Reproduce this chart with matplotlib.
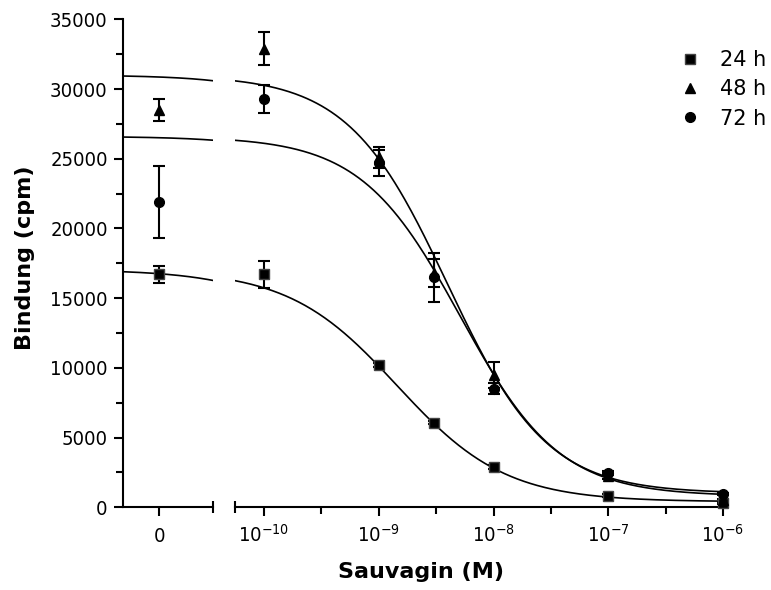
import numpy as np
import matplotlib.pyplot as plt
from matplotlib.lines import Line2D
from matplotlib.ticker import FixedLocator, NullLocator, MultipleLocator

plt.rcParams['font.family'] = ['DejaVu Sans']
plt.rcParams['font.stretch'] = 'condensed'
plt.rcParams['mathtext.fontset'] = 'custom'
plt.rcParams['mathtext.rm'] = 'DejaVu Sans:stretch=condensed'
plt.rcParams['mathtext.it'] = 'DejaVu Sans:italic:stretch=condensed'
plt.rcParams['mathtext.bf'] = 'DejaVu Sans:bold:stretch=condensed'

# Sauvagin concentration (M), 0 = no sauvagin
conc = [0, 1e-10, 1e-9, 3e-9, 1e-8, 1e-7, 1e-6]
series = ['24 h', '48 h', '72 h']
markers = ['s', '^', 'o']

# binding (cpm), mean and error
mean_24 = [16700, 16700, 10200, 6070, 2870, 830, 300]
err_24 = [600, 1000, 150, 120, 150, 100, 60]
mean_48 = [28500, 32900, 25100, 16800, 9500, 2250, 500]
err_48 = [800, 1200, 750, 1000, 950, 200, 100]
mean_72 = [21900, 29300, 24700, 16500, 8500, 2450, 950]
err_72 = [2550, 1000, 950, 1750, 400, 150, 100]

# sigmoidal fit parameters per series
fit_top = [17050, 31000, 26600]
fit_bottom = [400, 1000, 800]
fit_logec50 = [-8.84, -8.40, -8.29]
fit_hill = [0.92, 1.0, 1.0]

means = [mean_24, mean_48, mean_72]
errs = [err_24, err_48, err_72]

# axis geometry
zero_pos = 10 ** -10.73
xlim0 = (10 ** -11.05, 10 ** -10.26)
xlim1 = (10 ** -10.253, 1e-6)

W, H = 771, 590
fig = plt.figure(figsize=(W / 100, H / 100), dpi=100)
bottom = 1 - 507.3 / H
height = (507.3 - 19.3) / H
ax0 = fig.add_axes([122.7 / W, bottom, 90.6 / W, height])
ax1 = fig.add_axes([235 / W, bottom, (723 - 235) / W, height], sharey=ax0)


def fit_curve(x, i):
    return fit_bottom[i] + (fit_top[i] - fit_bottom[i]) / (
        1 + 10 ** (fit_hill[i] * (np.log10(x) - fit_logec50[i])))


for ax, lim in ((ax0, xlim0), (ax1, xlim1)):
    ax.set_xscale('log')
    ax.set_xlim(*lim)
    xs = np.logspace(np.log10(lim[0]), np.log10(lim[1]), 300)
    for i in range(3):
        ax.plot(xs, fit_curve(xs, i), color='black', lw=1.2, zorder=2)

for i in range(3):
    kw = dict(fmt=markers[i], color='black', ecolor='black', elinewidth=1.5,
              capsize=4.2, capthick=1.5, ms=7 if markers[i] != 's' else 6.5,
              mfc='black', mec='#444444' if markers[i] == 's' else 'black',
              clip_on=False, zorder=3)
    ax0.errorbar([zero_pos], means[i][:1], yerr=errs[i][:1], **kw)
    ax1.errorbar(conc[1:], means[i][1:], yerr=errs[i][1:], **kw)

ax0.set_ylim(0, 35000)
ax0.yaxis.set_major_locator(MultipleLocator(5000))
ax0.yaxis.set_minor_locator(MultipleLocator(2500))

ax0.xaxis.set_major_locator(FixedLocator([zero_pos]))
ax0.xaxis.set_minor_locator(NullLocator())
ax0.set_xticklabels(['0'])

ax1.xaxis.set_major_locator(FixedLocator([1e-10, 1e-9, 1e-8, 1e-7, 1e-6]))
ax1.xaxis.set_minor_locator(FixedLocator([10 ** -9.5, 10 ** -8.5, 10 ** -7.5, 10 ** -6.5]))
ax1.set_xticklabels([r'$\mathregular{10^{-%d}}$' % p for p in (10, 9, 8, 7, 6)])
ax1.xaxis.set_minor_formatter(plt.NullFormatter())

for ax in (ax0, ax1):
    for s in ('top', 'right'):
        ax.spines[s].set_visible(False)
    for s in ('left', 'bottom'):
        ax.spines[s].set_linewidth(1.5)
    ax.tick_params(which='major', length=6.3, width=1.5, labelsize=14.5)
    ax.tick_params(which='minor', length=5, width=1.5)

ax1.spines['left'].set_visible(False)
ax1.tick_params(axis='y', which='both', left=False, labelleft=False)
ax0.tick_params(axis='y', which='major', length=6.8, pad=4)
ax0.tick_params(axis='y', which='minor', length=4.8)
ax0.tick_params(axis='x', pad=8)
ax1.tick_params(axis='x', pad=6)

# axis break marks
ax0.plot([1], [0], marker='|', ms=8, mew=1.5, color='black',
         transform=ax0.transAxes, clip_on=False)
ax1.plot([0], [0], marker='|', ms=8, mew=1.5, color='black',
         transform=ax1.transAxes, clip_on=False)

fig.text(25 / W, 1 - 258 / H, 'Bindung (cpm)', rotation=90, fontsize=16,
         fontweight='bold', fontstretch='normal', ha='center', va='center')
fig.text(421 / W, 1 - 572 / H, 'Sauvagin (M)', fontsize=16,
         fontweight='bold', fontstretch='normal', ha='center', va='center')

handles = [Line2D([], [], ls='none', marker=m, color='black', mfc='black',
                  mec='#444444' if m == 's' else 'black',
                  ms=6.5 if m == 's' else 7) for m in markers]
fig.legend(handles, series, loc='upper left', bbox_to_anchor=(680 / W, 1 - 50 / H),
           frameon=False, prop={'size': 15, 'stretch': 'normal'},
           handlelength=1.0, handletextpad=0.9,
           labelspacing=0.45, borderpad=0, borderaxespad=0)

fig.savefig('out.png', dpi=100)
